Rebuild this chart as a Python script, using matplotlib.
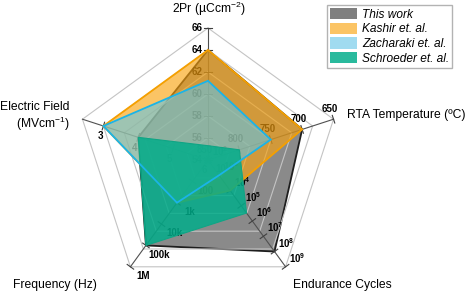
import numpy as np
import matplotlib
matplotlib.use('Agg')
import matplotlib.pyplot as plt
from matplotlib.patches import Patch, Polygon

plt.rcParams['font.family'] = ['Liberation Sans', 'DejaVu Sans']
plt.rcParams['mathtext.fontset'] = 'custom'
plt.rcParams['mathtext.rm'] = 'Liberation Sans'
plt.rcParams['mathtext.it'] = 'Liberation Sans:italic'
plt.rcParams['mathtext.bf'] = 'Liberation Sans:bold'

# data
works = ['This work', 'Kashir et. al.', 'Zacharaki et. al.', 'Schroeder et. al.']
pr2 = [64, 64, 61.2, 55.3]            # uC/cm2
rta = [700, 700, 750, 800]            # C
endurance = [1e8, 1e4, 1e3, 3e5]      # cycles
frequency = [1e5, 1e3, 1e3, 1e5]      # Hz
efield = [4, 3, 3, 4]                 # MV/cm

pr2_ticks = [54, 56, 58, 60, 62, 64, 66]
rta_ticks = [850, 800, 750, 700, 650]
end_ticks = [1e2, 1e3, 1e4, 1e5, 1e6, 1e7, 1e8, 1e9]
end_labels = [r'$\mathbf{10^{%d}}$' % k for k in range(2, 10)]
freq_ticks = [10, 100, 1e3, 1e4, 1e5, 1e6]
freq_labels = ['10', '100', '1k', '10k', '100k', '1M']
ef_ticks = [6, 5, 4, 3]

fill_colors = [(0.54, 0.54, 0.54, 1.0), (0.98, 0.64, 0.06, 0.64),
               (0.38, 0.77, 0.90, 0.6), (0.0, 0.68, 0.54, 0.84)]
edge_colors = ['#1e1e1e', '#f5a000', '#1ab4e8', '#0fa585']


# every axis has its own scale, mapped to 0..1 of the radius
def f_pr2(v):
    return (v - 54) / 12.0

def f_rta(v):
    return (850 - v) / 200.0

def f_end(v):
    return (np.log10(v) - 2) / 7.0

def f_freq(v):
    return (np.log10(v) - 1) / 5.0

def f_ef(v):
    return (6 - v) / 3.6

scales = [f_pr2, f_rta, f_end, f_freq, f_ef]
angles = np.deg2rad([90, 18, -54, -126, 162])
R = 132.0

fig = plt.figure(figsize=(4.7, 2.93), dpi=100)
ax = fig.add_axes([0, 0, 1, 1])
ax.set_xlim(-208, 262)
ax.set_ylim(-133, 160)
ax.axis('off')

ux = np.cos(angles)
uy = np.sin(angles)
px = np.cos(angles + np.pi / 2)
py = np.sin(angles + np.pi / 2)

# grid rings
for k in range(1, 7):
    r = R * k / 6
    ax.plot(np.append(ux, ux[0]) * r, np.append(uy, uy[0]) * r,
            color='#c4c4c4', lw=0.8, zorder=2)

# spokes, ticks and tick labels
tick_sets = [
    (pr2_ticks, [str(t) for t in pr2_ticks], 11),
    (rta_ticks, [str(t) for t in rta_ticks], 11),
    (end_ticks, end_labels, 15),
    (freq_ticks, freq_labels, 16),
    (ef_ticks, [str(t) for t in ef_ticks], 11),
]
for i, (ticks, labels, d) in enumerate(tick_sets):
    ax.plot([0, ux[i] * R], [0, uy[i] * R], color='#505050', lw=0.8, zorder=2)
    for t, lab in zip(ticks, labels):
        r = scales[i](t) * R
        cx, cy = ux[i] * r, uy[i] * r
        ax.plot([cx - px[i] * 4, cx + px[i] * 4], [cy - py[i] * 4, cy + py[i] * 4],
                color='#404040', lw=0.8, zorder=2)
        ax.text(cx + px[i] * d, cy + py[i] * d, lab, fontsize=7, fontweight='bold',
                ha='center', va='center', zorder=2)

# polygons
series = list(zip(pr2, rta, endurance, frequency, efield))
zf = [1, 3, 4, 5]
ze = [1.5, 3, 6, 5]
for j, vals in enumerate(series):
    rs = np.array([scales[i](vals[i]) for i in range(5)]) * R
    pts = np.column_stack([ux * rs, uy * rs])
    ax.add_patch(Polygon(pts, closed=True, facecolor=fill_colors[j],
                         edgecolor='none', zorder=zf[j]))
    ax.add_patch(Polygon(pts, closed=True, facecolor='none',
                         edgecolor=edge_colors[j], lw=1.3 if j < 3 else 0.8,
                         zorder=ze[j]))

# axis titles
ax.text(1, 151, r'2Pr (µCcm$^{-2}$)', fontsize=8.7, ha='center', va='center')
ax.text(139, 45, 'RTA Temperature (ºC)', fontsize=8.7, ha='left', va='center')
ax.text(-138, 53, 'Electric Field', fontsize=8.7, ha='right', va='center')
ax.text(-138, 36, r'(MVcm$^{-1}$)', fontsize=8.7, ha='right', va='center')
ax.text(134, -125, 'Endurance Cycles', fontsize=8.7, ha='center', va='center')
ax.text(-153, -125, 'Frequency (Hz)', fontsize=8.7, ha='center', va='center')

handles = [Patch(facecolor=c, edgecolor='none') for c in fill_colors]
handles[0] = Patch(facecolor='#7f7f7f', edgecolor='none')
leg = ax.legend(handles, works, loc='upper right', bbox_to_anchor=(452 / 470, 1 - 5 / 293),
                bbox_transform=fig.transFigure, borderaxespad=0,
                prop={'style': 'italic', 'size': 8.6}, frameon=True, fancybox=False,
                handlelength=2.3, handleheight=1.1, labelspacing=0.15,
                handletextpad=0.4, borderpad=0.25)
leg.get_frame().set_edgecolor('#a0a0a0')
leg.get_frame().set_linewidth(1.0)
leg.set_zorder(10)

fig.savefig('out.png', dpi=100)
